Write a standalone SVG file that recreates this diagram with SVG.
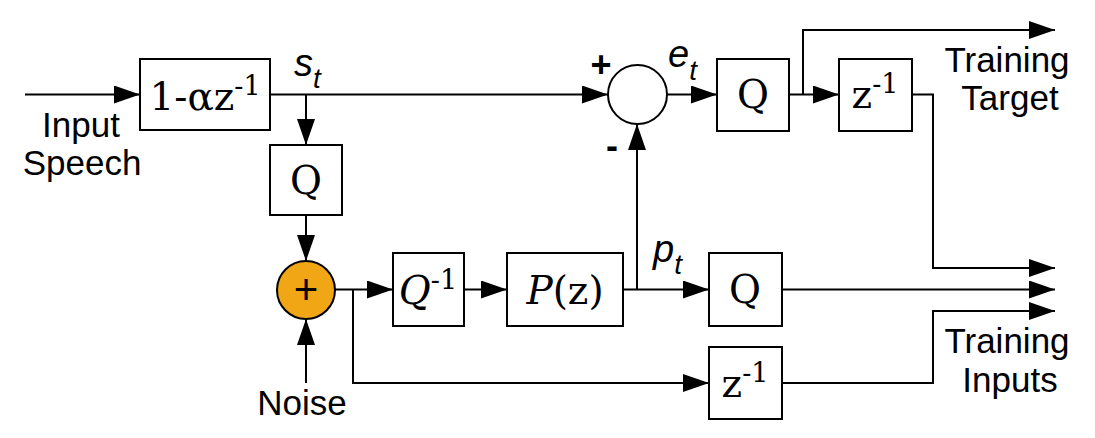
<svg xmlns="http://www.w3.org/2000/svg" width="1095" height="438" viewBox="0 0 1095 438">
<style>
.box{fill:#fff;stroke:#000;stroke-width:2}
.ln{fill:none;stroke:#000;stroke-width:2}
.arr{marker-end:url(#ah)}
.lab{font-family:"Liberation Sans",Arial,sans-serif;font-size:35px;fill:#000}
.sym{font-family:"DejaVu Serif",serif;font-size:39px;fill:#000}
.sup{font-size:27px}
.it{font-style:italic}
.var{font-family:"Liberation Sans",Arial,sans-serif;font-style:italic;font-size:38px;fill:#000}
.sub{font-size:28px}
.sgn{font-family:"Liberation Sans",Arial,sans-serif;font-weight:bold;fill:#000}
</style>
<defs>
<marker id="ah" markerUnits="userSpaceOnUse" markerWidth="27" markerHeight="18" refX="26" refY="9" orient="auto">
<path d="M0,0 L26,9 L0,18 z" fill="#000"/>
</marker>
</defs>
<rect width="1095" height="438" fill="#fff"/>
<g id="connectors">
<path class="ln arr" d="M25,94.5 H140"/>
<path class="ln arr" d="M270,94.5 H608"/>
<path class="ln arr" d="M306,94.5 V145"/>
<path class="ln arr" d="M306,215 V261"/>
<path class="ln arr" d="M306,383 V319"/>
<path class="ln arr" d="M335,289.5 H393"/>
<path class="ln arr" d="M353,289.5 V383 H709"/>
<path class="ln arr" d="M464,289.5 H507"/>
<path class="ln arr" d="M623,289.5 H709"/>
<path class="ln arr" d="M637,289.5 V124"/>
<path class="ln arr" d="M667,94.5 H717"/>
<path class="ln arr" d="M789,94.5 H839"/>
<path class="ln arr" d="M803,94.5 V30 H1055"/>
<path class="ln arr" d="M912,94.5 H933 V268 H1055"/>
<path class="ln arr" d="M782,289.5 H1055"/>
<path class="ln arr" d="M782,383 H933 V311 H1055"/>
</g>
<g id="preemph">
<rect class="box" x="140" y="59" width="130" height="71"/>
<text class="sym" x="205" y="110" text-anchor="middle">1-αz<tspan class="sup" dy="-15">-1</tspan></text>
</g>
<g id="q1">
<rect class="box" x="270" y="145" width="72" height="70"/>
<text class="sym" x="306" y="194" text-anchor="middle">Q</text>
</g>
<g id="sum">
<circle cx="306" cy="290" r="29" fill="#f0a615" stroke="#000" stroke-width="2"/>
<text x="306" y="304" text-anchor="middle" font-family="Liberation Sans, Arial, sans-serif" font-size="42" fill="#000">+</text>
</g>
<g id="qinv">
<rect class="box" x="393" y="253" width="71" height="73"/>
<text class="sym" x="428" y="304" text-anchor="middle"><tspan class="it">Q</tspan><tspan class="sup" dy="-15">-1</tspan></text>
</g>
<g id="pz">
<rect class="box" x="507" y="253" width="116" height="73"/>
<text class="sym" x="565" y="304" text-anchor="middle"><tspan class="it">P</tspan>(z)</text>
</g>
<g id="sub">
<circle cx="637.5" cy="94.5" r="29.5" fill="#fff" stroke="#000" stroke-width="2"/>
<text class="sgn" x="601" y="77" text-anchor="middle" font-size="36">+</text>
<text class="sgn" x="612" y="158" text-anchor="middle" font-size="36">-</text>
</g>
<g id="q2">
<rect class="box" x="717" y="59" width="72" height="72"/>
<text class="sym" x="753" y="108" text-anchor="middle">Q</text>
</g>
<g id="delay1">
<rect class="box" x="839" y="59" width="73" height="72"/>
<text class="sym" x="875" y="108" text-anchor="middle">z<tspan class="sup" dy="-15">-1</tspan></text>
</g>
<g id="q3">
<rect class="box" x="709" y="253" width="73" height="73"/>
<text class="sym" x="745" y="303" text-anchor="middle">Q</text>
</g>
<g id="delay2">
<rect class="box" x="709" y="347" width="73" height="72"/>
<text class="sym" x="745" y="397" text-anchor="middle">z<tspan class="sup" dy="-15">-1</tspan></text>
</g>
<g id="labels">
<text class="lab" x="81" y="137" text-anchor="middle">Input</text>
<text class="lab" x="82" y="175" text-anchor="middle">Speech</text>
<text class="lab" x="302" y="415" text-anchor="middle">Noise</text>
<text class="lab" x="1007" y="72" text-anchor="middle">Training</text>
<text class="lab" x="1010" y="110" text-anchor="middle">Target</text>
<text class="lab" x="1007" y="353" text-anchor="middle">Training</text>
<text class="lab" x="1010" y="392" text-anchor="middle">Inputs</text>
<text class="var" x="294" y="76">s<tspan class="sub" dy="12">t</tspan></text>
<text class="var" x="668" y="67">e<tspan class="sub" dy="13">t</tspan></text>
<text class="var" x="653" y="262">p<tspan class="sub" dy="12">t</tspan></text>
</g>
</svg>
